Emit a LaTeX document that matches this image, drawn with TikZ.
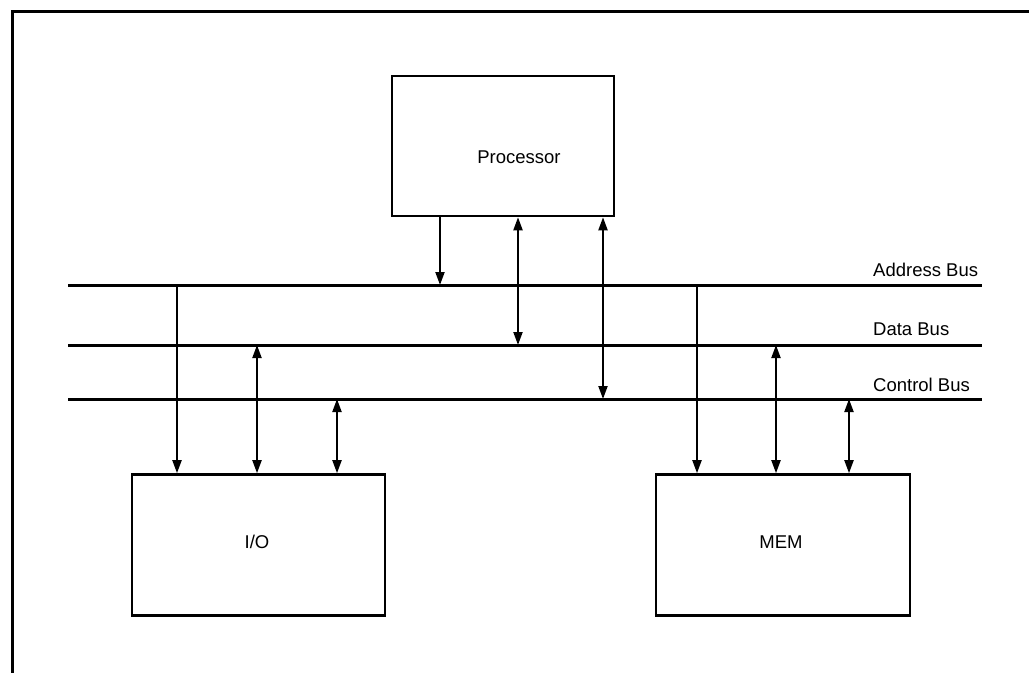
\documentclass[tikz,border=0pt]{standalone}
\usepackage{fontspec}
\setmainfont{Liberation Sans}
\usetikzlibrary{arrows.meta}
\begin{document}
\begin{tikzpicture}[x=1bp,y=-1bp,
  unit/.style={draw,line width=2.6bp,minimum width=#1,inner sep=0pt},
  bus/.style={line width=3bp},
  frame/.style={line width=3bp},
  conn/.style={line width=2bp,-{Triangle[length=13bp,width=9bp]}},
  dconn/.style={line width=2bp,{Triangle[length=13bp,width=9bp]}-{Triangle[length=13bp,width=9bp]}},
  lbl/.style={font=\fontsize{18.5bp}{22bp}\selectfont,inner sep=0pt},
  buslbl/.style={lbl,anchor=west}]
\useasboundingbox (0,0) rectangle (1029,673);
% frame
\coordinate (ftl) at (12,11.5);
\coordinate (ftr) at (1029,11.5);
\coordinate (fbl) at (12,673);
\draw[frame] (ftr) -- (ftl) -- (fbl);
% boxes
\node[unit=222bp,minimum height=140bp] (proc) at (503,146) {};
\node[lbl] (proct) at (519,157) {Processor};
\node[unit=253bp,minimum height=141bp] (io) at (258.5,545) {};
\node[lbl] (iot) at (257,542) {I/O};
\node[unit=254bp,minimum height=141bp] (mem) at (783,545) {};
\node[lbl] (memt) at (781,542) {MEM};
% buses
\coordinate (ab0) at (68,285); \coordinate (ab1) at (982,285);
\coordinate (db0) at (68,345); \coordinate (db1) at (982,345);
\coordinate (cb0) at (68,399); \coordinate (cb1) at (982,399);
\draw[bus] (ab0) -- (ab1);
\draw[bus] (db0) -- (db1);
\draw[bus] (cb0) -- (cb1);
\node[buslbl] (abl) at (873,270) {Address Bus};
\node[buslbl] (dbl) at (873,329) {Data Bus};
\node[buslbl] (cbl) at (873,385) {Control Bus};
% processor connections
\coordinate (pa) at (440,285);
\coordinate (pd) at (518,345);
\coordinate (pc) at (603,399);
\draw[conn] (proc.south -| pa) -- (pa);
\draw[dconn] (proc.south -| pd) -- (pd);
\draw[dconn] (proc.south -| pc) -- (pc);
% I/O connections
\coordinate (ia) at (177,285);
\coordinate (id) at (257,345);
\coordinate (ic) at (337,399);
\draw[conn] (ia) -- (io.north -| ia);
\draw[dconn] (id) -- (io.north -| id);
\draw[dconn] (ic) -- (io.north -| ic);
% MEM connections
\coordinate (ma) at (697,285);
\coordinate (md) at (776,345);
\coordinate (mc) at (849,399);
\draw[conn] (ma) -- (mem.north -| ma);
\draw[dconn] (md) -- (mem.north -| md);
\draw[dconn] (mc) -- (mem.north -| mc);
\end{tikzpicture}
\end{document}
